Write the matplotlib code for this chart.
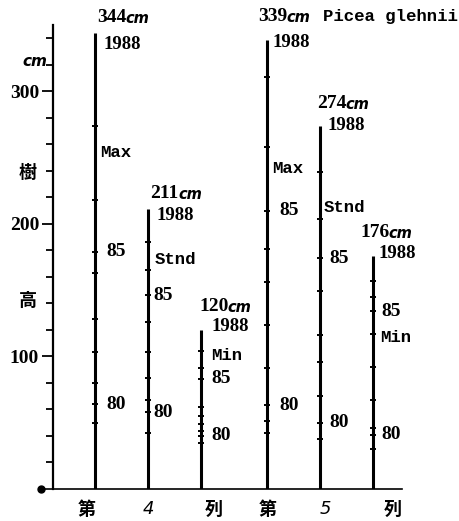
import matplotlib
matplotlib.use('Agg')
import matplotlib.pyplot as plt

# annual height marks (cm), top-down from 1988
years = [1988, 1987, 1986, 1985, 1984, 1983, 1982, 1981, 1980, 1979, 1978]
row4_max = [344, 274, 218, 179, 163, 128, 103, 80, 64, 50]
row4_stnd = [211, 186, 165, 146, 126, 103, 84, 67, 58, 42]
row4_min = [120, 104, 91, 83, 62, 55, 49, 44, 40, 35]
row5_max = [339, 311, 258, 210, 181, 156, 124, 91, 63, 51, 42]
row5_stnd = [274, 239, 204, 174, 149, 116, 96, 70, 50, 38]
row5_min = [176, 157, 145, 134, 117, 92, 67, 46, 41, 30]

classes = ['Max', 'Stnd', 'Min', 'Max', 'Stnd', 'Min']
row_labels = ['第', '4', '列', '第', '5', '列']
species = 'Picea glehnii'
year_marks = [1985, 1980]

trees = [row4_max, row4_stnd, row4_min, row5_max, row5_stnd, row5_min]
xpos = [1, 2, 3, 4.25, 5.25, 6.25]
row_label_x = [0.85, 2.0, 3.23, 4.26, 5.34, 6.62]

# layout (pixel offsets) for the labels around each stem
top_off = [(2, 15), (2, 16), (-2, 23), (-9, 23), (-3, 22), (-13, 23)]
yr_off = [(8, -12), (8, -6), (10, 3), (5, -3), (7, 0), (5, 2)]
mark_dx = [11, 5, 10, 12, 9, 8]
class_y = [254, 173, 101, 242, 212, 114]
class_dx = [5, 7, 10, 5, 3, 7]

serif = 'Liberation Serif'
mono = 'Liberation Mono'
cjk = ['Noto Sans CJK JP', 'DejaVu Sans']

fig = plt.figure(figsize=(4.6, 5.21), dpi=100)
ax = fig.add_axes([53 / 460, 32 / 521, (402 - 53) / 460, 464 / 521])
ax.set_xlim(0.2075, 6.79)
ax.set_ylim(0, 350)

for i, h in enumerate(trees):
    x = xpos[i]
    ax.vlines(x, 0, h[0], color='black', lw=2.2)
    ax.plot([x] * (len(h) - 1), h[1:], ls='none', marker='_', ms=5,
            mew=1.4, color='black')
    dx, dy = top_off[i]
    ax.annotate(f'{h[0]}', (x, h[0]), xytext=(dx, dy),
                textcoords='offset pixels', ha='left', va='center',
                fontsize=14, fontfamily=serif, fontweight='bold')
    ax.annotate('cm', (x, h[0]), xytext=(dx + 28, dy - 1),
                textcoords='offset pixels', ha='left', va='center',
                fontsize=10.5, fontfamily='DejaVu Sans', fontstyle='italic',
                fontweight='bold')
    ax.annotate(str(years[0]), (x, h[0]), xytext=yr_off[i],
                textcoords='offset pixels', ha='left', va='center',
                fontsize=13.5, fontfamily=serif, fontweight='bold')
    for yr in year_marks:
        yv = h[years.index(yr)]
        ax.annotate(str(yr)[2:], (x, yv), xytext=(mark_dx[i], 0),
                    textcoords='offset pixels', ha='left', va='center',
                    fontsize=14, fontfamily=serif, fontweight='bold')
    ax.annotate(classes[i], (x, class_y[i]), xytext=(class_dx[i], 0),
                textcoords='offset pixels', ha='left', va='center',
                fontsize=12.5, fontfamily=mono, fontweight='bold')

fig.text(323 / 460, 1 - 17 / 521, species, ha='left', va='center',
         fontsize=12.5, fontfamily=mono, fontweight='bold')

# axes
for s in ['top', 'right', 'bottom']:
    ax.spines[s].set_visible(False)
ax.spines['left'].set_linewidth(1.6)
ax.plot([-0.02, 6.79], [0, 0], color='black', lw=1.2, clip_on=False)
ax.plot([-0.02], [0], 'o', color='black', ms=5, clip_on=False)

ax.set_yticks([100, 200, 300])
ax.set_yticklabels(['100', '200', '300'], fontfamily=serif, fontsize=14,
                   fontweight='bold')
ax.set_yticks([v for v in range(20, 341, 20) if v % 100], minor=True)
ax.tick_params(axis='y', which='major', length=8, width=1.3, pad=2)
ax.tick_params(axis='y', which='minor', length=5, width=1.3)

ax.set_xticks(row_label_x)
ax.set_xticklabels(row_labels, fontfamily=cjk, fontsize=13, fontweight='bold')
for t in ax.get_xticklabels():
    if t.get_text().isdigit():
        t.set_fontstyle('italic')
        t.set_fontfamily('DejaVu Sans')
        t.set_fontweight('normal')
ax.tick_params(axis='x', length=0, pad=8)

fig.text(35 / 460, 1 - 62 / 521, 'cm', ha='center', va='center',
         fontsize=11, fontfamily='DejaVu Sans', fontstyle='italic',
         fontweight='bold')
fig.text(28 / 460, 1 - 172 / 521, '樹', ha='center', va='center',
         fontsize=13, fontfamily=cjk, fontweight='bold')
fig.text(28 / 460, 1 - 300 / 521, '高', ha='center', va='center',
         fontsize=13, fontfamily=cjk, fontweight='bold')

fig.savefig('out.png', dpi=100)
